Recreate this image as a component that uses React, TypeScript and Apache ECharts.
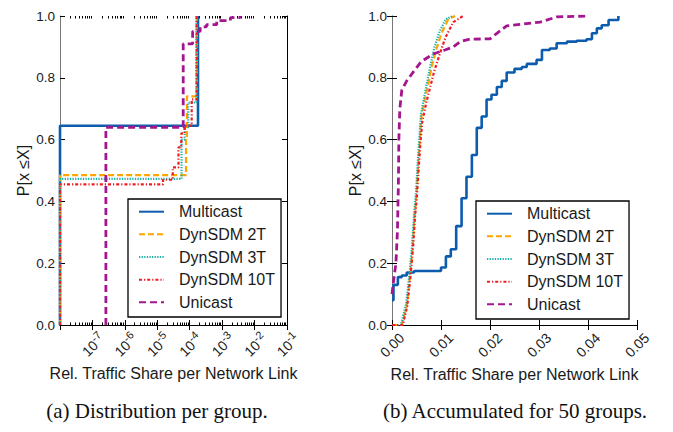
import React, { useEffect, useRef } from 'react';
import * as echarts from 'echarts';

const seriesNames = ['Multicast', 'DynSDM 2T', 'DynSDM 3T', 'DynSDM 10T', 'Unicast'];

// (a) Distribution per group — x: rel. traffic share (log), y: CDF
const aMulticast = [[1e-8, 0], [1e-8, 0.645], [1.8e-4, 1.0]];
const aDyn2T = [[1e-8, 0], [1e-8, 0.485], [7.7e-5, 0.6], [8.2e-5, 0.74], [1.65e-4, 1.0]];
const aDyn3T = [[1e-8, 0], [1e-8, 0.473], [5.6e-5, 0.6], [7e-5, 0.64], [9e-5, 0.72], [1.6e-4, 1.0]];
const aDyn10T = [[1e-8, 0], [1e-8, 0.455], [1.5e-5, 0.47], [3e-5, 0.51], [4.5e-5, 0.575], [5.5e-5, 0.62], [7e-5, 0.645], [1.15e-4, 0.73], [1.65e-4, 1.0]];
const aUnicast = [[2.6e-7, 0], [2.6e-7, 0.64], [6.3e-5, 0.91], [1.23e-4, 0.95], [2.1e-4, 0.965], [3.3e-4, 0.972], [6.8e-4, 0.985], [1.8e-3, 0.995], [3.6e-3, 1.0]];

// (b) Accumulated for 50 groups — x: rel. traffic share (linear), y: CDF
const bMulticast = [[0, 0.08], [0.0003, 0.13], [0.0012, 0.155], [0.002, 0.16], [0.003, 0.17], [0.0045, 0.175], [0.01, 0.186], [0.011, 0.222], [0.012, 0.245], [0.0131, 0.32], [0.0142, 0.41], [0.0152, 0.48], [0.0163, 0.55], [0.0173, 0.638], [0.0183, 0.675], [0.0193, 0.73], [0.0203, 0.745], [0.0214, 0.77], [0.0224, 0.79], [0.0234, 0.817], [0.025, 0.829], [0.0265, 0.835], [0.0275, 0.845], [0.0295, 0.858], [0.0306, 0.89], [0.0322, 0.895], [0.0336, 0.912], [0.0357, 0.917], [0.0377, 0.92], [0.0397, 0.925], [0.0408, 0.944], [0.0418, 0.96], [0.0428, 0.97], [0.0442, 0.987], [0.0462, 1.0]];
const bDyn2T = [[0, 0], [0.002, 0], [0.003, 0.06], [0.0037, 0.16], [0.0042, 0.25], [0.0046, 0.35], [0.005, 0.42], [0.0054, 0.53], [0.0057, 0.6], [0.006, 0.675], [0.0067, 0.73], [0.0074, 0.78], [0.0081, 0.836], [0.009, 0.89], [0.0101, 0.944], [0.0115, 0.99], [0.0129, 1.0]];
const bDyn3T = [[0, 0], [0.0018, 0], [0.0029, 0.07], [0.0036, 0.17], [0.0041, 0.26], [0.0045, 0.36], [0.0049, 0.43], [0.0053, 0.54], [0.0056, 0.61], [0.0059, 0.68], [0.0066, 0.74], [0.0072, 0.79], [0.0079, 0.845], [0.0087, 0.9], [0.0097, 0.95], [0.011, 0.99], [0.0125, 1.0]];
const bDyn10T = [[0, 0], [0.0022, 0], [0.0031, 0.06], [0.0038, 0.16], [0.0043, 0.25], [0.0047, 0.35], [0.0051, 0.42], [0.0055, 0.52], [0.0058, 0.59], [0.0062, 0.66], [0.007, 0.72], [0.0078, 0.77], [0.0086, 0.82], [0.0096, 0.87], [0.0109, 0.93], [0.0125, 0.98], [0.0145, 1.0]];
const bUnicast = [[0, 0.1], [0.0003, 0.14], [0.0008, 0.2], [0.0011, 0.3], [0.0013, 0.45], [0.0014, 0.6], [0.0016, 0.7], [0.002, 0.76], [0.003, 0.79], [0.0044, 0.82], [0.006, 0.853], [0.0084, 0.877], [0.0108, 0.89], [0.0125, 0.9], [0.0139, 0.917], [0.0159, 0.925], [0.02, 0.926], [0.0214, 0.944], [0.0234, 0.968], [0.0268, 0.974], [0.0302, 0.98], [0.0336, 0.997], [0.0397, 1.0]];

const aMajorTicks = [1e-8, 1e-7, 1e-6, 1e-5, 1e-4, 1e-3, 1e-2, 1e-1];
const aTickLabels = [1e-7, 1e-6, 1e-5, 1e-4, 1e-3, 1e-2, 1e-1];
const bTickLabels = ['0.00', '0.01', '0.02', '0.03', '0.04', '0.05'];
const yTickLabels = ['0.0', '0.2', '0.4', '0.6', '0.8', '1.0'];

const xTitle = 'Rel. Traffic Share per Network Link';
const yTitle = 'P[x ≤X]';
const captionA = '(a) Distribution per group.';
const captionB = '(b) Accumulated for 50 groups.';

const FONT = '"Liberation Sans", Arial, Helvetica, sans-serif';
const SERIF = '"Liberation Serif", "Times New Roman", serif';

const lineStyles: any[] = [
  { color: '#0c5cae', width: 2.6, type: 'solid' },
  { color: '#ffa500', width: 2.2, type: [6, 3] },
  { color: '#20b2aa', width: 2.2, type: [1.3, 1.3] },
  { color: '#ee1c25', width: 2.2, type: [3, 2, 1.2, 2] },
  { color: '#a3168f', width: 2.8, type: [7, 4] },
];

function minorLogTicks(): number[] {
  const out: number[] = [];
  for (let e = -8; e <= -2; e++) {
    for (let k = 2; k <= 9; k++) out.push(Number((k * Math.pow(10, e)).toPrecision(3)));
  }
  return out;
}

export default function App() {
  const ref = useRef<HTMLDivElement>(null);
  useEffect(() => {
    if (!ref.current) return;
    const chart = echarts.init(ref.current, undefined, { renderer: 'svg' });
    const aData = [aMulticast, aDyn2T, aDyn3T, aDyn10T, aUnicast];
    const bData = [bMulticast, bDyn2T, bDyn3T, bDyn10T, bUnicast];
    const minor = minorLogTicks();

    const tickLabelStyle = { fontFamily: FONT, fontSize: 13.5, color: '#1a1a1a' };
    const nameStyle = { fontFamily: FONT, fontSize: 16, color: '#1a1a1a' };

    const grids = [
      { left: 60, top: 16, width: 227, height: 309 },
      { left: 392, top: 16, width: 245, height: 309 },
    ];

    const logBase = { type: 'log', logBase: 10, min: 1e-8, max: 1e-1, gridIndex: 0, splitLine: { show: false } };
    const xAxes: any[] = [
      {
        ...logBase, position: 'bottom',
        name: xTitle, nameLocation: 'middle', nameGap: 40, nameTextStyle: nameStyle,
        axisLine: { show: true, lineStyle: { color: '#000', width: 1 } },
        axisTick: { show: true, inside: true, length: 5, customValues: aMajorTicks, lineStyle: { color: '#000' } },
        axisLabel: {
          show: true, rotate: 45, margin: 19, align: 'center', verticalAlign: 'middle', customValues: aTickLabels,
          formatter: (v: number) => `{b|10}{s|${Math.round(Math.log10(v))}}`,
          rich: {
            b: { fontFamily: FONT, fontSize: 14, color: '#1a1a1a', lineHeight: 17, verticalAlign: 'bottom' },
            s: { fontFamily: FONT, fontSize: 11, color: '#1a1a1a', lineHeight: 11, verticalAlign: 'top' },
          },
        },
      },
      {
        ...logBase, position: 'top',
        axisLine: { show: true, lineStyle: { color: '#000', width: 1 } },
        axisTick: { show: true, inside: true, length: 5, customValues: aMajorTicks, lineStyle: { color: '#000' } },
        axisLabel: { show: false },
      },
      {
        ...logBase, position: 'bottom',
        axisLine: { show: false },
        axisTick: { show: true, inside: true, length: 2.5, customValues: minor, lineStyle: { color: '#000' } },
        axisLabel: { show: false },
      },
      {
        ...logBase, position: 'top',
        axisLine: { show: false },
        axisTick: { show: true, inside: true, length: 2.5, customValues: minor, lineStyle: { color: '#000' } },
        axisLabel: { show: false },
      },
      {
        type: 'value', gridIndex: 1, position: 'bottom', min: 0, max: 0.05, interval: 0.01,
        splitLine: { show: false },
        name: xTitle, nameLocation: 'middle', nameGap: 40, nameTextStyle: nameStyle,
        axisLine: { show: true, lineStyle: { color: '#000', width: 1 } },
        axisTick: { show: true, inside: true, length: 5, lineStyle: { color: '#000' } },
        axisLabel: {
          ...tickLabelStyle, fontSize: 14, rotate: 45, margin: 20, align: 'center', verticalAlign: 'middle',
          formatter: (v: number) => bTickLabels[Math.round(v / 0.01)] ?? '',
        },
      },
      {
        type: 'value', gridIndex: 1, position: 'top', min: 0, max: 0.05, interval: 0.01,
        splitLine: { show: false },
        axisLine: { show: true, lineStyle: { color: '#000', width: 1 } },
        axisTick: { show: true, inside: true, length: 5, lineStyle: { color: '#000' } },
        axisLabel: { show: false },
      },
    ];

    const yBase = { type: 'value', min: 0, max: 1, interval: 0.2, splitLine: { show: false } };
    const yAxes: any[] = [
      {
        ...yBase, gridIndex: 0, position: 'left',
        name: yTitle, nameLocation: 'middle', nameGap: 29, nameRotate: 90, nameTextStyle: nameStyle,
        axisLine: { show: true, lineStyle: { color: '#777', width: 1 } },
        axisTick: { show: true, inside: true, length: 5, lineStyle: { color: '#000' } },
        axisLabel: { ...tickLabelStyle, margin: 5, formatter: (v: number) => yTickLabels[Math.round(v / 0.2)] ?? '' },
      },
      {
        ...yBase, gridIndex: 0, position: 'right',
        axisLine: { show: true, lineStyle: { color: '#000', width: 1 } },
        axisTick: { show: true, inside: true, length: 5, lineStyle: { color: '#000' } },
        axisLabel: { show: false },
      },
      {
        ...yBase, gridIndex: 1, position: 'left',
        name: yTitle, nameLocation: 'middle', nameGap: 29, nameRotate: 90, nameTextStyle: nameStyle,
        axisLine: { show: true, lineStyle: { color: '#777', width: 1 } },
        axisTick: { show: true, inside: true, length: 5, lineStyle: { color: '#000' } },
        axisLabel: { ...tickLabelStyle, margin: 5, formatter: (v: number) => yTickLabels[Math.round(v / 0.2)] ?? '' },
      },
      {
        ...yBase, gridIndex: 1, position: 'right',
        axisLine: { show: true, lineStyle: { color: '#777', width: 1 } },
        axisTick: { show: true, inside: true, length: 5, lineStyle: { color: '#000' } },
        axisLabel: { show: false },
      },
    ];

    const series: any[] = [];
    aData.forEach((d, i) => {
      series.push({
        type: 'line', name: seriesNames[i], xAxisIndex: 0, yAxisIndex: 0,
        data: d, step: 'end', symbol: 'none', clip: true,
        lineStyle: lineStyles[i], itemStyle: { color: lineStyles[i].color },
      });
    });
    bData.forEach((d, i) => {
      series.push({
        type: 'line', name: seriesNames[i], xAxisIndex: 4, yAxisIndex: 2,
        data: d, step: i === 0 ? 'end' : false, symbol: 'none', clip: true,
        lineStyle: lineStyles[i], itemStyle: { color: lineStyles[i].color },
      });
    });

    const legendBase = {
      orient: 'vertical', data: seriesNames, backgroundColor: '#fff',
      borderColor: '#000', borderWidth: 1.3, borderRadius: 0,
      padding: [4.7, 6, 6.7, 10], itemWidth: 25, itemHeight: 14, itemGap: 6.65,
      itemStyle: { opacity: 0, borderWidth: 0 },
      textStyle: { fontFamily: FONT, fontSize: 16, color: '#1a1a1a', padding: [0, 0, 0, 10] },
      selectedMode: false,
    };

    chart.setOption({
      animation: false,
      backgroundColor: '#fff',
      grid: grids,
      xAxis: xAxes,
      yAxis: yAxes,
      series,
      legend: [
        { ...legendBase, left: 128, top: 199 },
        { ...legendBase, left: 476, top: 201 },
      ],
      graphic: [
        { type: 'text', x: 157, y: 411, style: { text: captionA, font: `21px ${SERIF}`, fill: '#111', textAlign: 'center', textVerticalAlign: 'middle' } },
        { type: 'text', x: 515, y: 411, style: { text: captionB, font: `21px ${SERIF}`, fill: '#111', textAlign: 'center', textVerticalAlign: 'middle' } },
      ],
    });
    return () => chart.dispose();
  }, []);
  return <div ref={ref} style={{ position: 'fixed', left: 0, top: 0, width: 673, height: 432, background: '#fff' }} />;
}
